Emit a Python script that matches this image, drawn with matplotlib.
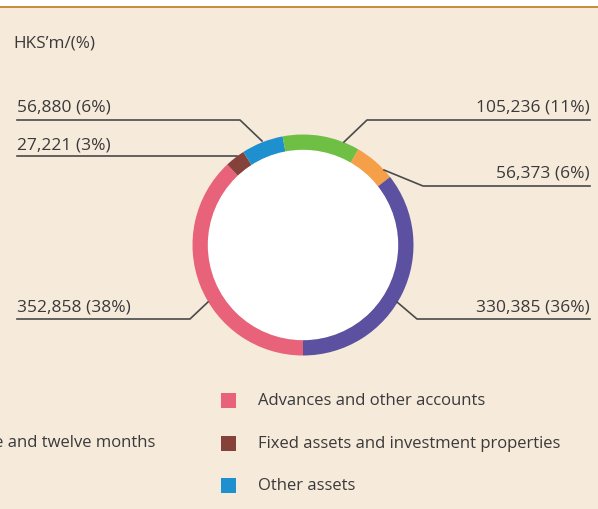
import matplotlib
matplotlib.use("Agg")
import matplotlib.pyplot as plt
from matplotlib.patches import Circle, Rectangle

# data, clockwise from 6 o'clock
labels = ["Advances and other accounts", "Fixed assets and investment properties",
          "Other assets", "Placements", "Trading assets", "Cash and balances"]
values = [352858, 27221, 56880, 105236, 56373, 330385]
pct_text = ["352,858 (38%)", "27,221 (3%)", "56,880 (6%)",
            "105,236 (11%)", "56,373 (6%)", "330,385 (36%)"]
colors = ["#e8627a", "#85423a", "#1e90d0", "#6fbf44", "#f59f48", "#5c50a0"]

legend_names = ["Advances and other accounts", "Fixed assets and investment properties", "Other assets"]
legend_colors = ["#e8627a", "#85423a", "#1e90d0"]

BG = "#f6eadb"
TXT = "#3a3a3a"
LINE = "#4a4a4a"
H = 510

plt.rcParams["font.family"] = ["Open Sans", "DejaVu Sans"]

fig = plt.figure(figsize=(5.98, 5.10), dpi=100)
fig.patch.set_facecolor("white")
ax = fig.add_axes([0, 0, 1, 1])


def Y(y):
    return H - y


# background and top rule
ax.add_patch(Rectangle((0, 0), 598, Y(8), color=BG, zorder=0))
ax.plot([0, 598], [Y(8), Y(8)], color="#c98a3a", lw=1.4, zorder=1)

cx, cy, r_out, r_in = 303, 246, 110.5, 94.5
ax.pie(values, colors=colors, startangle=270, counterclock=False,
       center=(cx, Y(cy)), radius=r_out, frame=True,
       wedgeprops=dict(width=r_out - r_in, edgecolor="none", linewidth=0))
ax.add_patch(Circle((cx, Y(cy)), r_in, color="white", zorder=3))
ax.set_xlim(0, 598)
ax.set_ylim(0, H)
ax.set_aspect("equal")
ax.axis("off")

ax.text(13, Y(44), "HKS\u2019m/(%)", fontsize=12.3, color=TXT, va="center", ha="left")

fs = 12.5
# left labels: (text, text y, polyline points)
left = [
    (pct_text[2], 108, [(17, 121), (240, 121), (262, 142)]),
    (pct_text[1], 145, [(17, 157), (237, 157)]),
    (pct_text[0], 307, [(17, 320), (190, 320), (208, 303)]),
]
for t, ty, pts in left:
    ax.text(17, Y(ty), t, fontsize=fs, color=TXT, ha="left", va="center")
    ax.plot([p[0] for p in pts], [Y(p[1]) for p in pts], color=LINE, lw=1.2, zorder=2)

right = [
    (pct_text[3], 108, [(590, 121), (367, 121), (344, 143)]),
    (pct_text[4], 174, [(590, 187), (423, 187), (384, 171)]),
    (pct_text[5], 307, [(590, 320), (417, 320), (397, 303)]),
]
for t, ty, pts in right:
    ax.text(590, Y(ty), t, fontsize=fs, color=TXT, ha="right", va="center")
    ax.plot([p[0] for p in pts], [Y(p[1]) for p in pts], color=LINE, lw=1.2, zorder=2)

# legend (right column)
fl = 12
for i, (name, c) in enumerate(zip(legend_names, legend_colors)):
    yc = 401.5 + i * 42.5
    ax.add_patch(Rectangle((221, Y(yc) - 7.5), 14.5, 15, color=c, lw=0, zorder=2))
    ax.text(258, Y(yc), name, fontsize=fl, color=TXT, ha="left", va="center")

# left column legend, cut off by the page edge
ax.text(155, Y(443), "one and twelve months",
        fontsize=fl, color=TXT, ha="right", va="center")

fig.savefig("out.png", dpi=100, facecolor=fig.get_facecolor())
